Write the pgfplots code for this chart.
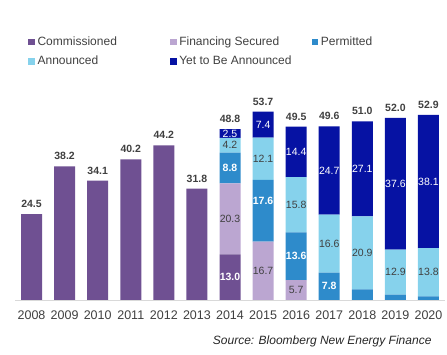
\documentclass[border=0pt]{standalone}
\usepackage{pgfplots}
\pgfplotsset{compat=1.18}
\usepackage{fontspec}
\setmainfont{Liberation Sans}
\definecolor{cComm}{HTML}{6F5092}
\definecolor{cFin}{HTML}{BBA6D1}
\definecolor{cPer}{HTML}{2E8BCB}
\definecolor{cAnn}{HTML}{86D2EC}
\definecolor{cYet}{HTML}{0612A3}
\definecolor{txt}{HTML}{404040}
\definecolor{axl}{HTML}{D9D9D9}
\pgfplotstableread{
x comm fin per ann yet
0 24.5 0 0 0 0
1 38.2 0 0 0 0
2 34.1 0 0 0 0
3 40.2 0 0 0 0
4 44.2 0 0 0 0
5 31.8 0 0 0 0
6 13.0 20.3 8.8 4.2 2.5
7 0 16.7 17.6 12.1 7.4
8 0 5.7 13.6 15.8 14.4
9 0 0 7.8 16.6 25.2
10 0 0 3.0 20.9 27.1
11 0 0 1.5 12.9 37.6
12 0 0 1.0 13.8 38.1
}\datatable
\pgfplotsset{
  base/.style={
    at={(15pt,55pt)}, anchor=south west,
    scale only axis, width=430pt, height=210pt,
    xmin=-0.5, xmax=12.5, ymin=0, ymax=60, clip=false,
  },
  sq/.style={legend image code/.code={\fill[##1] (0pt,-3.3pt) rectangle (6.7pt,3.3pt);}},
}
\newcommand{\lt}[1]{\makebox[135pt][l]{\hspace{2.7pt}#1}}
\begin{document}
\begin{tikzpicture}[x=1pt,y=1pt]
\useasboundingbox (0,0) rectangle (447,355);
\begin{axis}[base,
  ybar stacked, bar width=21pt,
  axis x line=bottom, axis y line=none,
  axis line style={axl, -},
  xtick={0,...,12},
  xticklabels={2008,2009,2010,2011,2012,2013,2014,2015,2016,2017,2018,2019,2020},
  major tick length=0pt,
  xticklabel style={anchor=base, yshift=-19.5pt, font=\fontsize{12.5}{14}\selectfont, text=txt},
  legend columns=3,
  legend style={at={(0.0302,1.257)}, anchor=north west, draw=none, fill=none,
    inner sep=0pt, font=\fontsize{12}{14}\selectfont, text=txt,
    column sep=0pt, row sep=7.8pt,
    nodes={inner sep=0pt, text height=9pt, text depth=2.5pt}},
  legend cell align=left,
]
\addplot[sq, fill=cComm, draw=none] table[x=x, y=comm] {\datatable};
\addlegendentry{\lt{Commissioned}}
\addplot[sq, fill=cFin, draw=none] table[x=x, y=fin] {\datatable};
\addlegendentry{\lt{Financing Secured}}
\addplot[sq, fill=cPer, draw=none] table[x=x, y=per] {\datatable};
\addlegendentry{\lt{Permitted}}
\addplot[sq, fill=cAnn, draw=none] table[x=x, y=ann] {\datatable};
\addlegendentry{\lt{Announced}}
\addplot[sq, fill=cYet, draw=none] table[x=x, y=yet] {\datatable};
\addlegendentry{\lt{Yet to Be Announced}}
\end{axis}
\begin{axis}[base, hide axis,
  point meta=explicit symbolic, nodes near coords]
% totals
\addplot[draw=none, mark=none, nodes near coords style={anchor=base, yshift=6.5pt, text=txt, font=\fontsize{10.5}{12}\selectfont\bfseries}]
coordinates {(0,24.5)[24.5] (1,38.2)[38.2] (2,34.1)[34.1] (3,40.2)[40.2] (4,44.2)[44.2] (5,31.8)[31.8]
(6,48.8)[48.8] (7,53.8)[53.7] (8,49.5)[49.5] (9,49.6)[49.6] (10,51.0)[51.0] (11,52.0)[52.0] (12,52.9)[52.9]};
% white bold (commissioned, permitted)
\addplot[draw=none, mark=none, nodes near coords style={anchor=center, text=white, font=\fontsize{10.5}{12}\selectfont\bfseries}]
coordinates {(6,6.5)[13.0] (6,37.7)[8.8] (7,28.4)[17.6] (8,12.5)[13.6] (9,3.9)[7.8]};
% gray regular (financing, announced)
\addplot[draw=none, mark=none, nodes near coords style={anchor=center, text=txt, font=\fontsize{10.5}{12}\selectfont}]
coordinates {(6,23.15)[20.3] (7,8.35)[16.7] (8,2.85)[5.7] (6,44.2)[4.2] (7,40.35)[12.1] (8,27.2)[15.8] (9,16.1)[16.6] (10,13.45)[20.9] (11,7.95)[12.9] (12,7.9)[13.8]};
% white regular (yet to be announced)
\addplot[draw=none, mark=none, nodes near coords style={anchor=center, text=white, font=\fontsize{10.5}{12}\selectfont}]
coordinates {(6,47.55)[2.5] (7,50.1)[7.4] (8,42.3)[14.4] (9,37.0)[24.7] (10,37.45)[27.1] (11,33.2)[37.6] (12,33.85)[38.1]};
\end{axis}
\node[anchor=base east, font=\fontsize{12}{14}\selectfont\itshape, text=black!85] at (435,10.7) {Source: Bloomberg New Energy Finance};
\end{tikzpicture}
\end{document}
